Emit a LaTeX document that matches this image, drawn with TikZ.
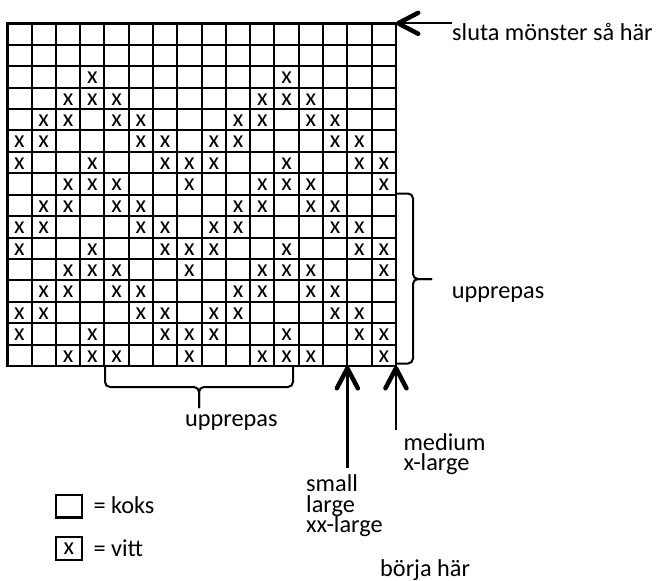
\documentclass[tikz,border=0pt]{standalone}
\usepackage{fontspec}
\setmainfont{Carlito}
\usetikzlibrary{positioning,arrows.meta}

\tikzset{
  lbl/.style={inner sep=0pt, anchor=base west},
  cross/.style={inner sep=0pt},
  gridline/.style={line width=2pt},
  brace/.style={line width=2pt, rounded corners=5pt},
  arr/.style={line width=2.4pt, -{Straight Barb[length=20pt,width=21pt,line width=4.5pt,round]}},
  keybox/.style={draw, line width=2.2pt, inner sep=0pt, minimum width=25.7pt, minimum height=22.7pt},
}

\begin{document}
\begin{tikzpicture}[x=1pt, y=-1pt, font=\fontsize{24.3}{29}\selectfont]
\useasboundingbox (0,0) rectangle (657,581);

%Grid
\begin{scope}[shift={(7.3,23.3)}, x=24.29pt, y=-21.42pt]
\foreach \i in {1,...,15}{
  \draw[gridline] (\i,0) -- (\i,16);
  \draw[gridline] (0,\i) -- (16,\i);
}
\draw[line width=2.6pt] (0,0) rectangle (16,16);
\foreach \r/\cols in {2/{3,11}, 3/{2,3,4,10,11,12},
    4/{1,2,4,5,9,10,12,13}, 5/{0,1,5,6,8,9,13,14},
    6/{0,3,6,7,8,11,14,15}, 7/{2,3,4,7,10,11,12,15},
    8/{1,2,4,5,9,10,12,13}, 9/{0,1,5,6,8,9,13,14},
    10/{0,3,6,7,8,11,14,15}, 11/{2,3,4,7,10,11,12,15},
    12/{1,2,4,5,9,10,12,13}, 13/{0,1,5,6,8,9,13,14},
    14/{0,3,6,7,8,11,14,15}, 15/{2,3,4,7,10,11,12,15}}
  \foreach \c in \cols
    \node[cross] (x-\r-\c) at (\c+.5,\r+.55) {x};
\coordinate (TR) at (16,0);
\coordinate (B14) at (14,16);
\coordinate (BR) at (16,16);
\end{scope}

%Nodes
\node[lbl] (sluta)   at (452,40.3)   {sluta mönster så här};
\node[lbl] (rep1)    at (451.7,298)  {upprepas};
\node[lbl] (rep2)    at (185,426.7)  {upprepas};
\node[lbl] (medium)  at (403.3,450.7) {medium};
\node[lbl] (xlarge)  at ([yshift=-19.3pt]medium.base west) {x-large};
\node[lbl] (small)   at (306,491.7)  {small};
\node[lbl] (large)   at ([yshift=-20.5pt]small.base west) {large};
\node[lbl] (xxlarge) at ([yshift=-20.5pt]large.base west) {xx-large};
\node[keybox] (koksbox) at (68.8,506.2) {};
\node[lbl] (koks)    at (93.3,513)   {= koks};
\node[keybox] (vittbox) at (68.8,548.7) {x};
\node[lbl] (vitt)    at (93.3,556.7) {= vitt};
\node[lbl] (borja)   at (380,576)    {börja här};

%Braces
\draw[brace] (397,193.5) -- (413,193.5) -- (413,279) -- (432,279);
\draw[brace] (397,363.5) -- (413,363.5) -- (413,279) -- (432,279);
\draw[brace] (105,367) -- (105,387) -- (199,387) -- (199,408);
\draw[brace] (293,367) -- (293,387) -- (199,387) -- (199,408);

%Arrows
\coordinate (sfoot) at ([yshift=-102pt]B14);
\coordinate (mfoot) at ([yshift=-64pt]BR);
\draw[arr, line width=1.8pt] (sluta.west |- TR) -- (TR);
\draw[arr] (sfoot) -- (B14);
\draw[arr] (mfoot) -- (BR);
\end{tikzpicture}
\end{document}
